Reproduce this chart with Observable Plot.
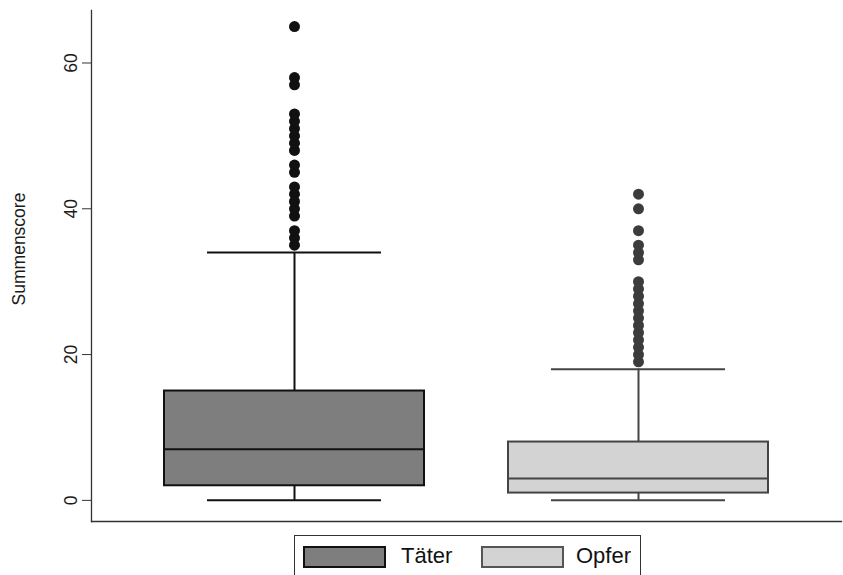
<!DOCTYPE html>
<html>
<head>
<meta charset="utf-8">
<script src="https://cdn.jsdelivr.net/npm/d3@7"></script>
<script src="https://cdn.jsdelivr.net/npm/@observablehq/plot@0.6"></script>
<style>
  body { margin: 0; background: #fff; font-family: "Liberation Sans", Arial, sans-serif; }
  #chart svg { display: block; }
  #chart svg text { font-size: 17.5px; }
  #legend {
    position: absolute; left: 294px; top: 535px; width: 347px; height: 48px;
    border: 1px solid #333; box-sizing: border-box; background: #fff;
  }
  .sw { position: absolute; top: 10px; width: 83px; height: 22px; box-sizing: border-box; border: 2px solid #111; }
  .lt { position: absolute; top: 7px; font-size: 22px; color: #111; line-height: 26px; }
</style>
</head>
<body>
<div id="chart"></div>
<div id="legend"></div>
<script>
const categories = ["Täter", "Opfer"];
const q1 = [2, 1];
const median = [7, 3];
const q3 = [15, 8];
const whiskerLow = [0, 0];
const whiskerHigh = [34, 18];
const outliersTaeter = [35, 36, 37, 39, 40, 41, 42, 43, 45, 46, 48, 49, 50, 51, 52, 53, 57, 58, 65];
const outliersOpfer = [19, 20, 21, 22, 23, 24, 25, 26, 27, 28, 29, 30, 33, 34, 35, 37, 40, 42];
const yTicks = [0, 20, 40, 60];
const yLabel = "Summenscore";
const boxFills = ["#7e7e7e", "#d3d3d3"];
const lineColors = ["#111111", "#444444"];
const dotColors = ["#111111", "#3c3c3c"];

const boxes = categories.map((c, i) => ({
  cat: c, q1: q1[i], med: median[i], q3: q3[i], lo: whiskerLow[i], hi: whiskerHigh[i],
  fill: boxFills[i], line: lineColors[i], dot: dotColors[i]
}));
const outliers = [
  ...outliersTaeter.map(v => ({cat: categories[0], v, dot: dotColors[0]})),
  ...outliersOpfer.map(v => ({cat: categories[1], v, dot: dotColors[1]}))
];

const chart = Plot.plot({
  width: 843,
  height: 531,
  marginLeft: 91,
  marginRight: 2,
  marginTop: 10,
  marginBottom: 10,
  style: {fontFamily: "'Liberation Sans', Arial, sans-serif", fontSize: "17.5px", color: "#1a1a1a", background: "#fff"},
  x: {type: "band", domain: categories, paddingInner: 0.243, paddingOuter: 0.21, axis: null},
  y: {domain: [-2.9, 67.2], axis: null},
  color: {type: "identity"},
  marks: [
    Plot.ruleX(boxes, {x: "cat", y1: "lo", y2: "hi", stroke: "line", strokeWidth: 2}),
    Plot.tickY(boxes, {x: "cat", y: "lo", stroke: "line", strokeWidth: 2, insetLeft: 43, insetRight: 43}),
    Plot.tickY(boxes, {x: "cat", y: "hi", stroke: "line", strokeWidth: 2, insetLeft: 43, insetRight: 43}),
    Plot.barY(boxes, {x: "cat", y1: "q1", y2: "q3", fill: "fill", stroke: "line", strokeWidth: 2}),
    Plot.tickY(boxes, {x: "cat", y: "med", stroke: "line", strokeWidth: 2}),
    Plot.dot(outliers, {x: "cat", y: "v", r: 5.5, fill: "dot", stroke: null}),
    Plot.axisY({ticks: yTicks, tickSize: 9, tickRotate: -90, fontSize: 17.5, tickPadding: 6, label: null, stroke: "#333"}),
    Plot.frame({anchor: "left", stroke: "#333", strokeWidth: 1.3}),
    Plot.frame({anchor: "bottom", stroke: "#333", strokeWidth: 1.3}),
    Plot.text([yLabel], {frameAnchor: "left", textAnchor: "middle", rotate: -90, dx: -72, dy: -17, fontSize: 17.5, fill: "#1a1a1a"})
  ]
});
document.getElementById("chart").appendChild(chart);

const legend = document.getElementById("legend");
const legendItems = [
  {label: categories[0], fill: boxFills[0], border: "#111", sx: 8, tx: 106},
  {label: categories[1], fill: boxFills[1], border: "#555", sx: 186, tx: 281}
];
legendItems.forEach(it => {
  const sw = document.createElement("div");
  sw.className = "sw";
  sw.style.left = it.sx + "px";
  sw.style.background = it.fill;
  sw.style.borderColor = it.border;
  legend.appendChild(sw);
  const t = document.createElement("div");
  t.className = "lt";
  t.style.left = it.tx + "px";
  t.textContent = it.label;
  legend.appendChild(t);
});
</script>
</body>
</html>
